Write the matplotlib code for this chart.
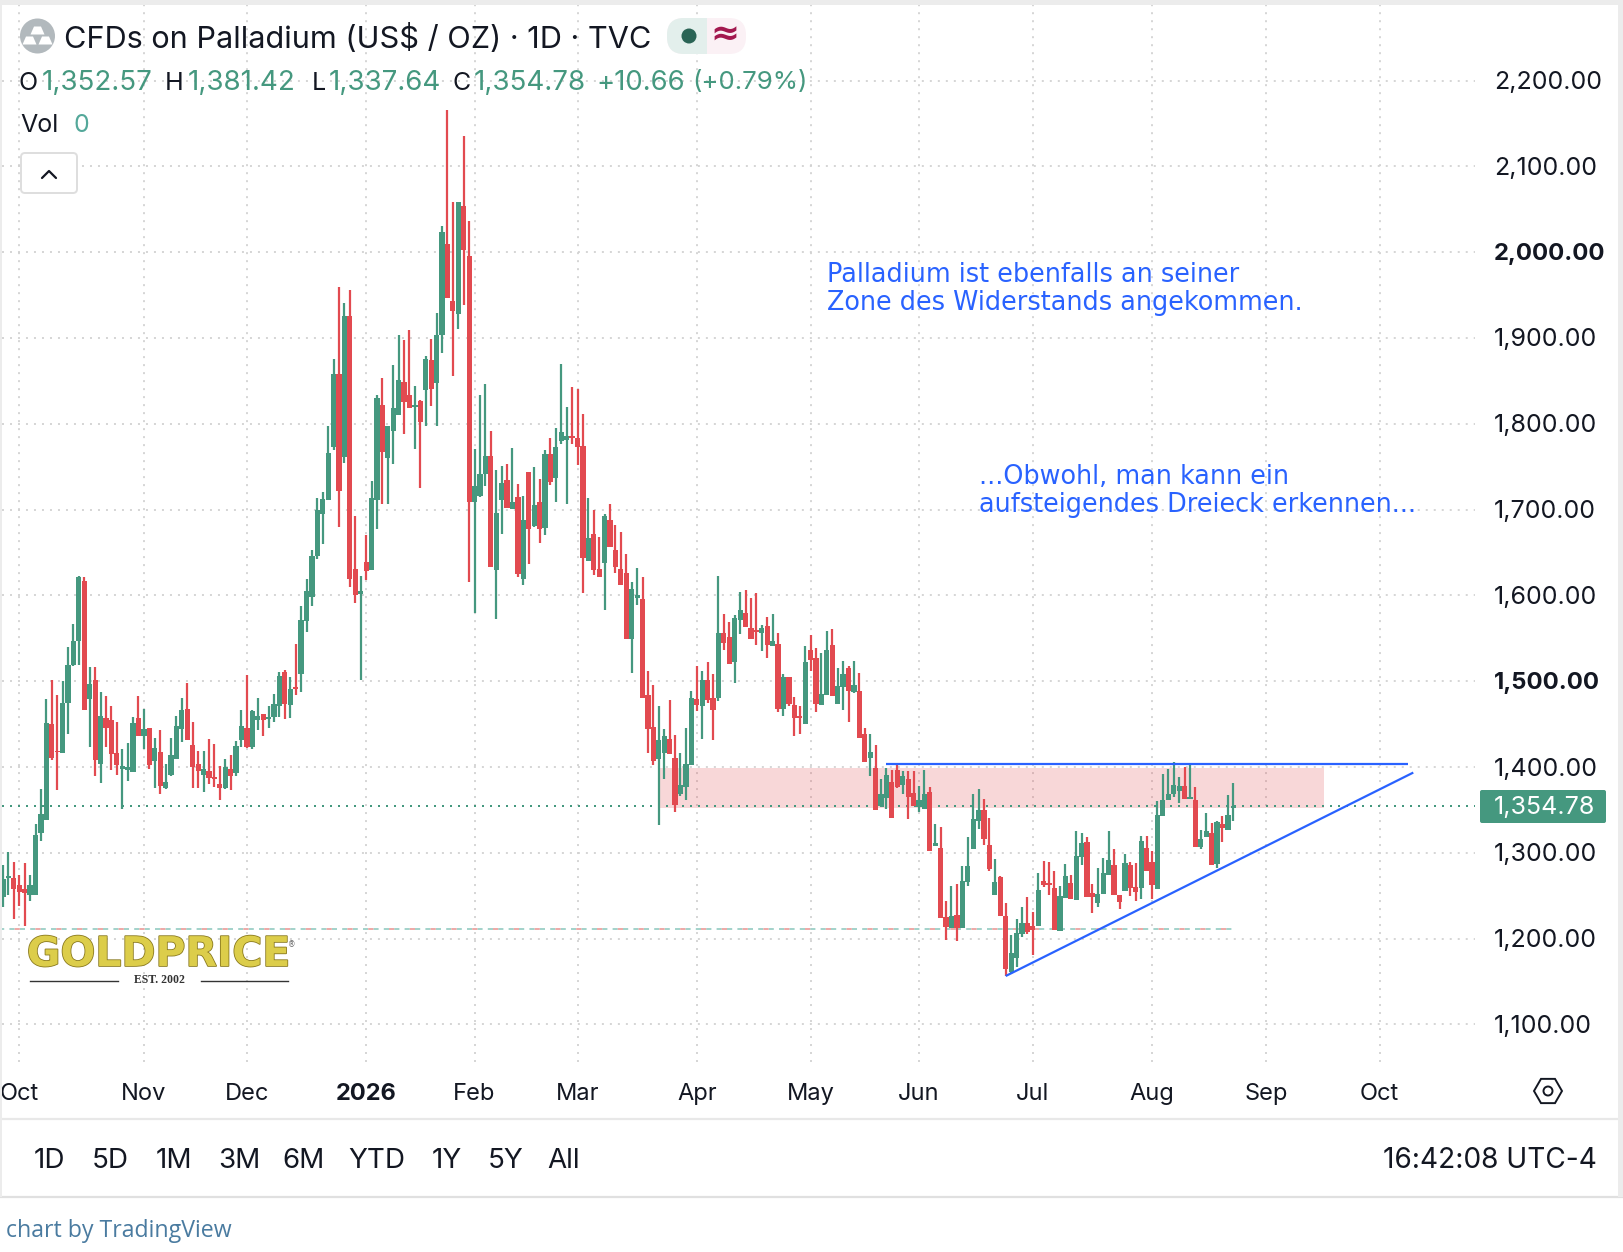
import numpy as np
import matplotlib
matplotlib.use('Agg')
import matplotlib.pyplot as plt
import matplotlib.patheffects as pe
from matplotlib.patches import FancyBboxPatch, Rectangle, Circle, RegularPolygon, Polygon

# daily candles, values
open_ = [1248,1271,1271,1262,1258,1251,1251,1323,1338,1450,1419,1416,1475,1519,1547,1617,1479,1501,1403,1457,1455,1416,1398,1397,1394,1457,1436,
         1445,1407,1417,1375,1391,1409,1444,1468,1426,1404,1391,1395,1388,1380,1375,1398,1393,1431,1445,1423,1455,1462,1456,1458,1471,1511,1472,
         1493,1508,1570,1598,1646,1695,1711,1773,1858,1761,1926,1631,1602,1639,1630,1711,1822,1760,1792,1810,1849,1833,1819,1826,1839,1874,1848,
         1904,2009,1943,1928,2054,1996,1709,1716,1742,1762,1630,1711,1734,1701,1715,1619,1744,1681,1709,1679,1765,1737,1780,1781,1785,1784,1774,
         1640,1672,1631,1638,1688,1653,1631,1626,1549,1597,1596,1484,1447,1409,1416,1433,1411,1368,1377,1402,1479,1471,1501,1480,1481,1556,1551,
         1522,1571,1579,1562,1560,1556,1564,1541,1543,1468,1505,1472,1459,1450,1536,1527,1472,1484,1542,1473,1493,1515,1487,1488,1439,1410,1399,
         1355,1364,1383,1397,1379,1386,1370,1353,1351,1371,1308,1306,1225,1212,1228,1212,1266,1304,1337,1350,1309,1251,1272,1226,1161,1177,1205,
         1218,1215,1215,1267,1265,1259,1209,1247,1265,1245,1295,1313,1253,1242,1252,1274,1286,1251,1256,1286,1260,1259,1306,1289,1258,1343,1362,
         1368,1372,1378,1363,1361,1307,1318,1323,1287,1334,1327,1352.57]
high = [1286,1301,1289,1274,1288,1274,1334,1374,1479,1501,1484,1500,1540,1567,1623,1622,1516,1517,1487,1483,1471,1453,1421,1428,1458,1483,1468,
        1446,1434,1443,1404,1434,1460,1481,1498,1453,1419,1419,1433,1427,1401,1409,1414,1430,1467,1507,1467,1481,1462,1471,1485,1511,1513,1505,
        1543,1588,1619,1653,1713,1721,1797,1875,1960,1941,1956,1692,1623,1670,1733,1833,1853,1798,1868,1904,1898,1909,1844,1828,1879,1899,1929,
        2031,2166,2059,2059,2136,2036,1771,1833,1846,1792,1746,1751,1753,1772,1730,1716,1744,1750,1736,1769,1783,1795,1870,1819,1843,1840,1811,
        1713,1699,1668,1695,1707,1682,1674,1648,1616,1632,1621,1512,1496,1471,1444,1478,1437,1416,1445,1489,1518,1512,1522,1508,1623,1578,1569,
        1577,1604,1606,1597,1603,1565,1575,1578,1556,1508,1505,1482,1471,1541,1554,1539,1533,1559,1561,1515,1523,1518,1524,1509,1446,1438,1426,
        1386,1399,1397,1402,1395,1395,1395,1378,1396,1377,1334,1330,1244,1261,1264,1285,1318,1369,1374,1363,1341,1293,1273,1242,1204,1223,1237,
        1249,1231,1277,1291,1289,1279,1261,1287,1274,1325,1323,1318,1264,1282,1294,1325,1304,1251,1299,1289,1288,1319,1319,1302,1360,1392,1398,
        1406,1388,1400,1405,1377,1326,1346,1335,1337,1343,1367,1381.42]
low = [1237,1251,1223,1238,1215,1244,1251,1314,1338,1408,1373,1416,1439,1518,1519,1467,1423,1390,1381,1423,1397,1391,1351,1384,1394,1436,1421,
       1398,1376,1369,1374,1390,1409,1429,1431,1375,1375,1371,1380,1377,1361,1374,1373,1389,1423,1422,1421,1443,1436,1446,1452,1458,1456,1457,
       1484,1487,1557,1588,1642,1660,1711,1769,1680,1754,1610,1591,1501,1618,1630,1677,1707,1707,1753,1810,1788,1818,1771,1725,1797,1821,1797,
       1882,1947,1856,1911,1939,1616,1580,1715,1727,1633,1572,1672,1702,1701,1622,1612,1637,1680,1661,1670,1729,1709,1776,1707,1777,1752,1603,
       1640,1624,1621,1583,1656,1626,1612,1549,1509,1589,1480,1416,1402,1332,1386,1415,1348,1366,1361,1402,1465,1433,1475,1432,1477,1536,1520,
       1498,1555,1563,1549,1542,1535,1527,1541,1464,1460,1471,1436,1439,1450,1512,1464,1472,1484,1483,1473,1466,1453,1486,1434,1406,1390,1350,
       1353,1351,1340,1376,1368,1339,1355,1347,1351,1302,1308,1224,1198,1212,1197,1212,1261,1304,1328,1309,1279,1251,1226,1156,1159,1167,1202,
       1205,1181,1215,1260,1251,1210,1209,1247,1246,1245,1286,1249,1230,1237,1252,1274,1251,1235,1256,1250,1244,1246,1279,1246,1258,1343,1362,
       1365,1358,1363,1363,1307,1304,1318,1286,1282,1313,1327,1337.64]
close = [1269,1273,1258,1254,1253,1262,1321,1345,1451,1411,1417,1475,1519,1547,1621,1467,1497,1408,1459,1446,1415,1402,1401,1400,1451,1436,1444,
         1402,1422,1378,1382,1414,1448,1467,1432,1400,1395,1398,1387,1386,1375,1400,1389,1425,1448,1423,1465,1460,1455,1458,1474,1506,1474,1491,
         1491,1571,1605,1646,1700,1712,1766,1858,1722,1926,1619,1600,1605,1629,1713,1830,1767,1798,1818,1851,1825,1818,1822,1802,1876,1840,1904,
         2023,1947,1931,2059,2002,1709,1728,1741,1762,1633,1696,1731,1702,1709,1625,1688,1677,1705,1677,1765,1732,1773,1790,1786,1783,1773,1644,
         1667,1630,1621,1693,1656,1633,1612,1549,1607,1600,1480,1444,1407,1432,1436,1415,1356,1379,1403,1480,1472,1501,1478,1466,1556,1544,1520,
         1574,1583,1563,1549,1557,1562,1542,1547,1468,1505,1473,1457,1457,1522,1525,1474,1485,1536,1483,1494,1508,1489,1495,1434,1406,1418,1350,
         1368,1391,1340,1377,1390,1365,1355,1362,1368,1302,1311,1224,1214,1226,1212,1267,1285,1339,1350,1316,1281,1266,1226,1165,1183,1207,1218,
         1208,1210,1257,1263,1263,1210,1250,1273,1246,1296,1312,1249,1249,1252,1277,1292,1251,1243,1288,1259,1254,1314,1279,1263,1344,1362,1369,
         1379,1378,1363,1365,1307,1316,1325,1286,1336,1329,1344,1354.78]

price_ticks = [1100, 1200, 1300, 1400, 1500, 1600, 1700, 1800, 1900, 2000, 2100, 2200]
bold_prices = [1500, 2000]
month_pos = [3, 26, 45, 67, 87, 106, 128, 149, 169, 190, 212, 233, 254]
month_names = ['Oct', 'Nov', 'Dec', '2026', 'Feb', 'Mar', 'Apr', 'May', 'Jun', 'Jul', 'Aug', 'Sep', 'Oct']
range_names = ['1D', '5D', '1M', '3M', '6M', 'YTD', '1Y', '5Y', 'All']
range_x = [49, 110, 174, 239, 304, 377, 447, 506, 564]

last_price = 1354.78
prev_line = 1211
zone_low, zone_high = 1352.6, 1398.8
zone_start, zone_end = 121.2, 243.8
res_line = 1403.5
res_start, res_end = 163, 259.2
trend_x = [185, 260.2]
trend_y = [1156.4, 1393.5]

GREEN = '#45987f'
RED = '#e24a50'
BLUE = '#2962ff'
INK = '#131722'
GRID = '#d2d2d2'
FONT = 'Inter'

W, H_ = 1624, 1252
fig = plt.figure(figsize=(W / 100, H_ / 100), dpi=100, facecolor='white')

# chart pane sits at pixel x 2..1475, y 5..1062
ax = fig.add_axes([2 / W, 1 - 1062 / H_, 1473 / W, 1057 / H_])
ax.set_xlim((2 - 3) / 5.42, (1475 - 3) / 5.42)
ax.set_ylim(1400 - (1062 - 767) / 0.858, 1400 + (767 - 5) / 0.858)
for s in ax.spines.values():
    s.set_visible(False)
ax.set_xticks([])
ax.set_yticks([])

dots = (0, (1.1, 3.33))
for p in price_ticks:
    ax.axhline(p, color=GRID, lw=1.3, ls=dots, zorder=1)
for m in month_pos:
    ax.axvline(m, color=GRID, lw=1.3, ls=dots, zorder=1)

ax.axhspan(zone_low, zone_high, xmin=(zone_start - ax.get_xlim()[0]) / np.ptp(ax.get_xlim()),
           xmax=(zone_end - ax.get_xlim()[0]) / np.ptp(ax.get_xlim()), facecolor='#e24a50', alpha=0.22, lw=0, zorder=2)

# pre/post session line, two colours taking turns
line_end = len(open_) - 1
ax.plot([-1, line_end], [prev_line, prev_line], color='#a4d3cb', lw=1.44, ls=(0, (2.6, 2.6)), zorder=2)
ax.plot([-1, line_end], [prev_line, prev_line], color='#eeaaa8', lw=1.44, ls=(2.6, (2.6, 7.8)), zorder=2)
ax.axhline(last_price, color=GREEN, lw=1.44, ls=(0, (1, 3)), zorder=2.5)

x = np.arange(len(open_))
o = np.array(open_, dtype=float)
c = np.array(close, dtype=float)
colors = [GREEN if b >= a else RED for a, b in zip(o, c)]
ax.vlines(x, low, high, colors=colors, lw=1.6, zorder=3, capstyle='butt')
ax.bar(x, np.maximum(np.abs(c - o), 2.2), bottom=np.minimum(o, c), width=0.96, color=colors, lw=0, zorder=4)

ax.plot([res_start, res_end], [res_line, res_line], color=BLUE, lw=1.6, zorder=5, solid_capstyle='butt')
ax.plot(trend_x, trend_y, color=BLUE, lw=1.6, zorder=5, solid_capstyle='butt')

# everything around the chart, in pixels
ui = fig.add_axes([0, 0, 1, 1], zorder=5)
ui.set_xlim(0, W)
ui.set_ylim(H_, 0)
ui.axis('off')
ui.patch.set_alpha(0)

ui.text(827.5, 275, 'Palladium ist ebenfalls an seiner', color=BLUE, fontsize=18.4, va='center', family='DejaVu Sans')
ui.text(827.5, 303, 'Zone des Widerstands angekommen.', color=BLUE, fontsize=18.4, va='center', family='DejaVu Sans')
ui.text(979, 477, '...Obwohl, man kann ein', color=BLUE, fontsize=18.4, va='center', family='DejaVu Sans')
ui.text(979, 505, 'aufsteigendes Dreieck erkennen...', color=BLUE, fontsize=18.4, va='center', family='DejaVu Sans')

# header
ui.add_patch(Circle((37.5, 36), 17.5, color='#b2b9bd', lw=0))
for px, py in [(37.5, 26.5), (29.5, 36.5), (45.5, 36.5)]:
    ui.add_patch(Polygon([(px - 3.5, py), (px + 3.5, py), (px + 7, py + 8), (px - 7, py + 8)], color='white', lw=0))
ui.text(64, 39, 'CFDs on Palladium (US$ / OZ) · 1D · TVC', color=INK, fontsize=22.1, va='center', family=FONT)

pill = FancyBboxPatch((667, 18), 79, 36, boxstyle='round,pad=0,rounding_size=17', fc='#fbf1f5', ec='none')
ui.add_patch(pill)
half = Rectangle((667, 18), 40, 36, fc='#e3efec', ec='none')
ui.add_patch(half)
half.set_clip_path(pill)
ui.add_patch(Circle((689, 36), 7.5, color='#2a6455', lw=0))
ui.text(725, 35, '≈', color='#a3194f', fontsize=25, weight='bold', ha='center', va='center', family='DejaVu Sans')

ohlc = [(19, 'O', INK, 18), (42, '1,352.57', GREEN, 20), (165, 'H', INK, 18), (188, '1,381.42', GREEN, 20),
        (312, 'L', INK, 18), (329, '1,337.64', GREEN, 20), (453, 'C', INK, 18), (474, '1,354.78', GREEN, 20),
        (596, '+10.66', GREEN, 19.8), (692, '(+0.79%)', GREEN, 18.6)]
for tx, label, col, size in ohlc:
    ui.text(tx, 83, label, color=col, fontsize=size, va='center', family=FONT)
ui.text(20, 125, 'Vol', color=INK, fontsize=18, va='center', family=FONT)
ui.text(74, 125, '0', color='#54a89a', fontsize=18, va='center', family=FONT)

ui.add_patch(FancyBboxPatch((21, 153), 56, 40, boxstyle='round,pad=0,rounding_size=4', fc='white', ec='#dedede', lw=1.4))
ui.plot([42, 49, 56], [178, 171, 178], color=INK, lw=1.6, solid_capstyle='round')

# logo
ui.text(158.5, 955, 'GOLDPRICE', color='#dccd4a', fontsize=29.5, weight='bold', ha='center', va='center',
        family='DejaVu Sans', path_effects=[pe.withStroke(linewidth=1.2, foreground='#8a7a20')])
ui.text(292, 945, '®', color='#666666', fontsize=5.5, ha='center', va='center', family='DejaVu Sans')
ui.text(159.5, 980, 'EST. 2002', color='#333333', fontsize=8.5, weight='bold', ha='center', va='center', family='Liberation Serif')
ui.plot([30, 118], [981, 981], color='#333333', lw=1)
ui.plot([201, 288], [981, 981], color='#333333', lw=1)

# price scale
for p in price_ticks:
    ypx = 769 - (p - 1400) * 0.858
    is_bold = p in bold_prices
    ui.text(1494, ypx, f'{p:,.2f}', color=INK, fontsize=17.2 if is_bold else 18, va='center', family=FONT,
            weight='bold' if is_bold else 'normal')
ui.add_patch(FancyBboxPatch((1480, 790), 126, 33, boxstyle='round,pad=0,rounding_size=2', fc=GREEN, ec='none'))
ui.text(1494, 807.5, f'{last_price:,.2f}', color='white', fontsize=18, va='center', family=FONT)

# time scale
for m, name in zip(month_pos, month_names):
    ui.text(3 + m * 5.42, 1094, name, color=INK, fontsize=17, ha='center', va='center', family=FONT,
            weight='bold' if name == '2026' else 'normal')
ui.add_patch(RegularPolygon((1548, 1091), 6, radius=14, orientation=np.pi / 6, fc='none', ec=INK, lw=1.4))
ui.add_patch(Circle((1548, 1091), 4.5, fc='none', ec=INK, lw=1.4))

# range bar
ui.plot([2, 1618], [1119, 1119], color='#e8e8e8', lw=1.6)
ui.plot([0, 1624], [1197, 1197], color='#e0e0e0', lw=1.6)
for tx, name in zip(range_x, range_names):
    ui.text(tx, 1161, name, color=INK, fontsize=20, ha='center', va='center', family=FONT)
ui.text(1597, 1161, '16:42:08 UTC-4', color=INK, fontsize=20.2, ha='right', va='center', family=FONT)
ui.text(6, 1231, 'chart by TradingView', color='#4a7ba0', fontsize=16.7, va='center', family='Open Sans')

# card border
ui.add_patch(Rectangle((0, 0), W, 5, color='#ececec', lw=0, zorder=6))
ui.add_patch(Rectangle((0, 0), 2, 1197, color='#ececec', lw=0, zorder=6))
ui.add_patch(Rectangle((1618, 0), 6, 1197, color='#ececec', lw=0, zorder=6))

fig.savefig('out.png', dpi=100)
